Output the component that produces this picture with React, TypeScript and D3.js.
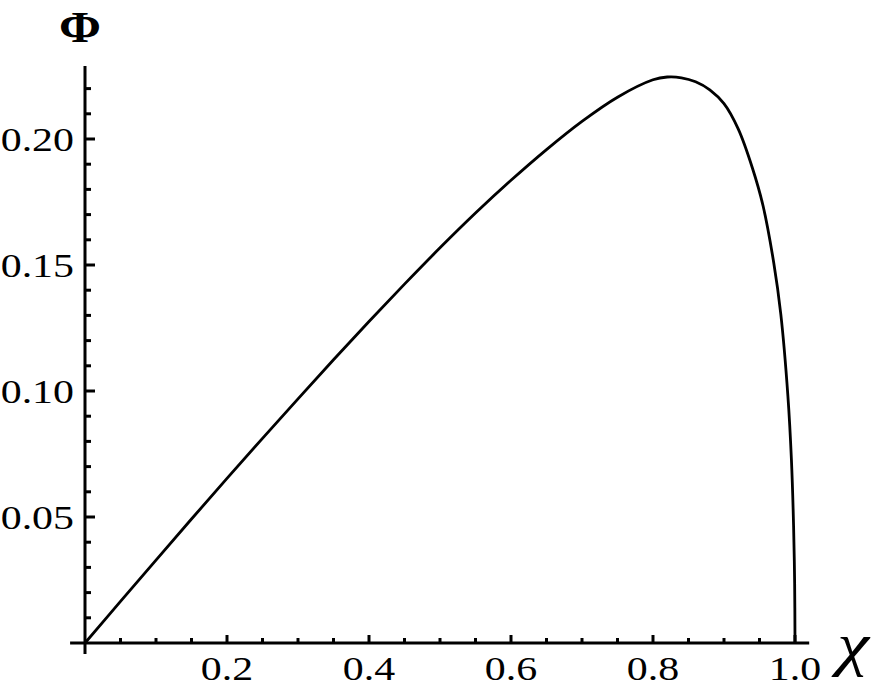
import React from "react";
import * as d3 from "d3";

const chiValues = [0, 0.05, 0.1, 0.15, 0.2, 0.25, 0.3, 0.35, 0.4, 0.45, 0.5, 0.55, 0.6, 0.65, 0.7, 0.75, 0.8, 0.82, 0.84, 0.86, 0.88, 0.9, 0.92, 0.94, 0.955, 0.97, 0.98, 0.99, 0.995, 0.998, 0.9995, 1.0];
const phiValues = [0, 0.0165, 0.0329, 0.0492, 0.0653, 0.0812, 0.0969, 0.1124, 0.1276, 0.1424, 0.1568, 0.1706, 0.1836, 0.1958, 0.207, 0.2166, 0.2235, 0.2246, 0.2243, 0.2227, 0.2195, 0.214, 0.204, 0.1885, 0.1735, 0.151, 0.1305, 0.098, 0.0725, 0.0465, 0.0235, 0];

const xMajorTicks = [0.2, 0.4, 0.6, 0.8, 1.0];
const xTickLabels = ["0.2", "0.4", "0.6", "0.8", "1.0"];
const yMajorTicks = [0.05, 0.1, 0.15, 0.2];
const yTickLabels = ["0.05", "0.10", "0.15", "0.20"];
const xMinorTicks = d3.range(1, 21).map((i) => i * 0.05);
const yMinorTicks = d3.range(1, 23).map((i) => i * 0.01);

const W = 888;
const H = 689;

export default function App() {
  const x = d3.scaleLinear().domain([0, 1]).range([85, 795]);
  const y = d3.scaleLinear().domain([0, 0.2]).range([643, 139]);
  const data = chiValues.map((c, i) => [c, phiValues[i]] as [number, number]);
  const line = d3
    .line<[number, number]>()
    .x((d) => x(d[0]))
    .y((d) => y(d[1]))
    .curve(d3.curveCatmullRom.alpha(0.5));
  const font = "'Liberation Serif', 'Times New Roman', serif";
  const isMajorX = (v: number) => xMajorTicks.some((m) => Math.abs(m - v) < 1e-9);
  const isMajorY = (v: number) => yMajorTicks.some((m) => Math.abs(m - v) < 1e-9);
  return (
    <svg width={W} height={H} style={{ position: "absolute", left: 0, top: 0, background: "#fff" }}>
      <rect width={W} height={H} fill="#fff" />
      <line x1={x(-0.021)} x2={x(1.02)} y1={y(0)} y2={y(0)} stroke="#000" strokeWidth={3} />
      <line x1={x(0)} x2={x(0)} y1={y(-0.0044)} y2={y(0.229)} stroke="#000" strokeWidth={3} />
      {xMinorTicks.map((v) => (
        <line key={"xt" + v} x1={x(v)} x2={x(v)} y1={y(0)} y2={y(0) - (isMajorX(v) ? 8 : 5)} stroke="#000" strokeWidth={3} />
      ))}
      {yMinorTicks.map((v) => (
        <line key={"yt" + v} x1={x(0)} x2={x(0) + (isMajorY(v) ? 10 : 6)} y1={y(v)} y2={y(v)} stroke="#000" strokeWidth={3} />
      ))}
      {xMajorTicks.map((v, i) => (
        <text key={"xl" + v} transform={`translate(${x(v)},680) scale(1.27,1)`} textAnchor="middle" fontFamily={font} fontSize={33} fill="#000">
          {xTickLabels[i]}
        </text>
      ))}
      {yMajorTicks.map((v, i) => (
        <text key={"yl" + v} transform={`translate(74,${y(v) + 11.5}) scale(1.27,1)`} textAnchor="end" fontFamily={font} fontSize={33} fill="#000">
          {yTickLabels[i]}
        </text>
      ))}
      <path d={line(data) || ""} fill="none" stroke="#000" strokeWidth={2.8} />
      <text transform="translate(80,42) scale(1.15,1)" textAnchor="middle" fontFamily={font} fontSize={44} fontWeight="bold" fill="#000">
        Φ
      </text>
      <text transform="translate(853,664) scale(1.2,1)" textAnchor="middle" fontFamily={font} fontStyle="italic" fontSize={60} fill="#000">
        χ
      </text>
    </svg>
  );
}
